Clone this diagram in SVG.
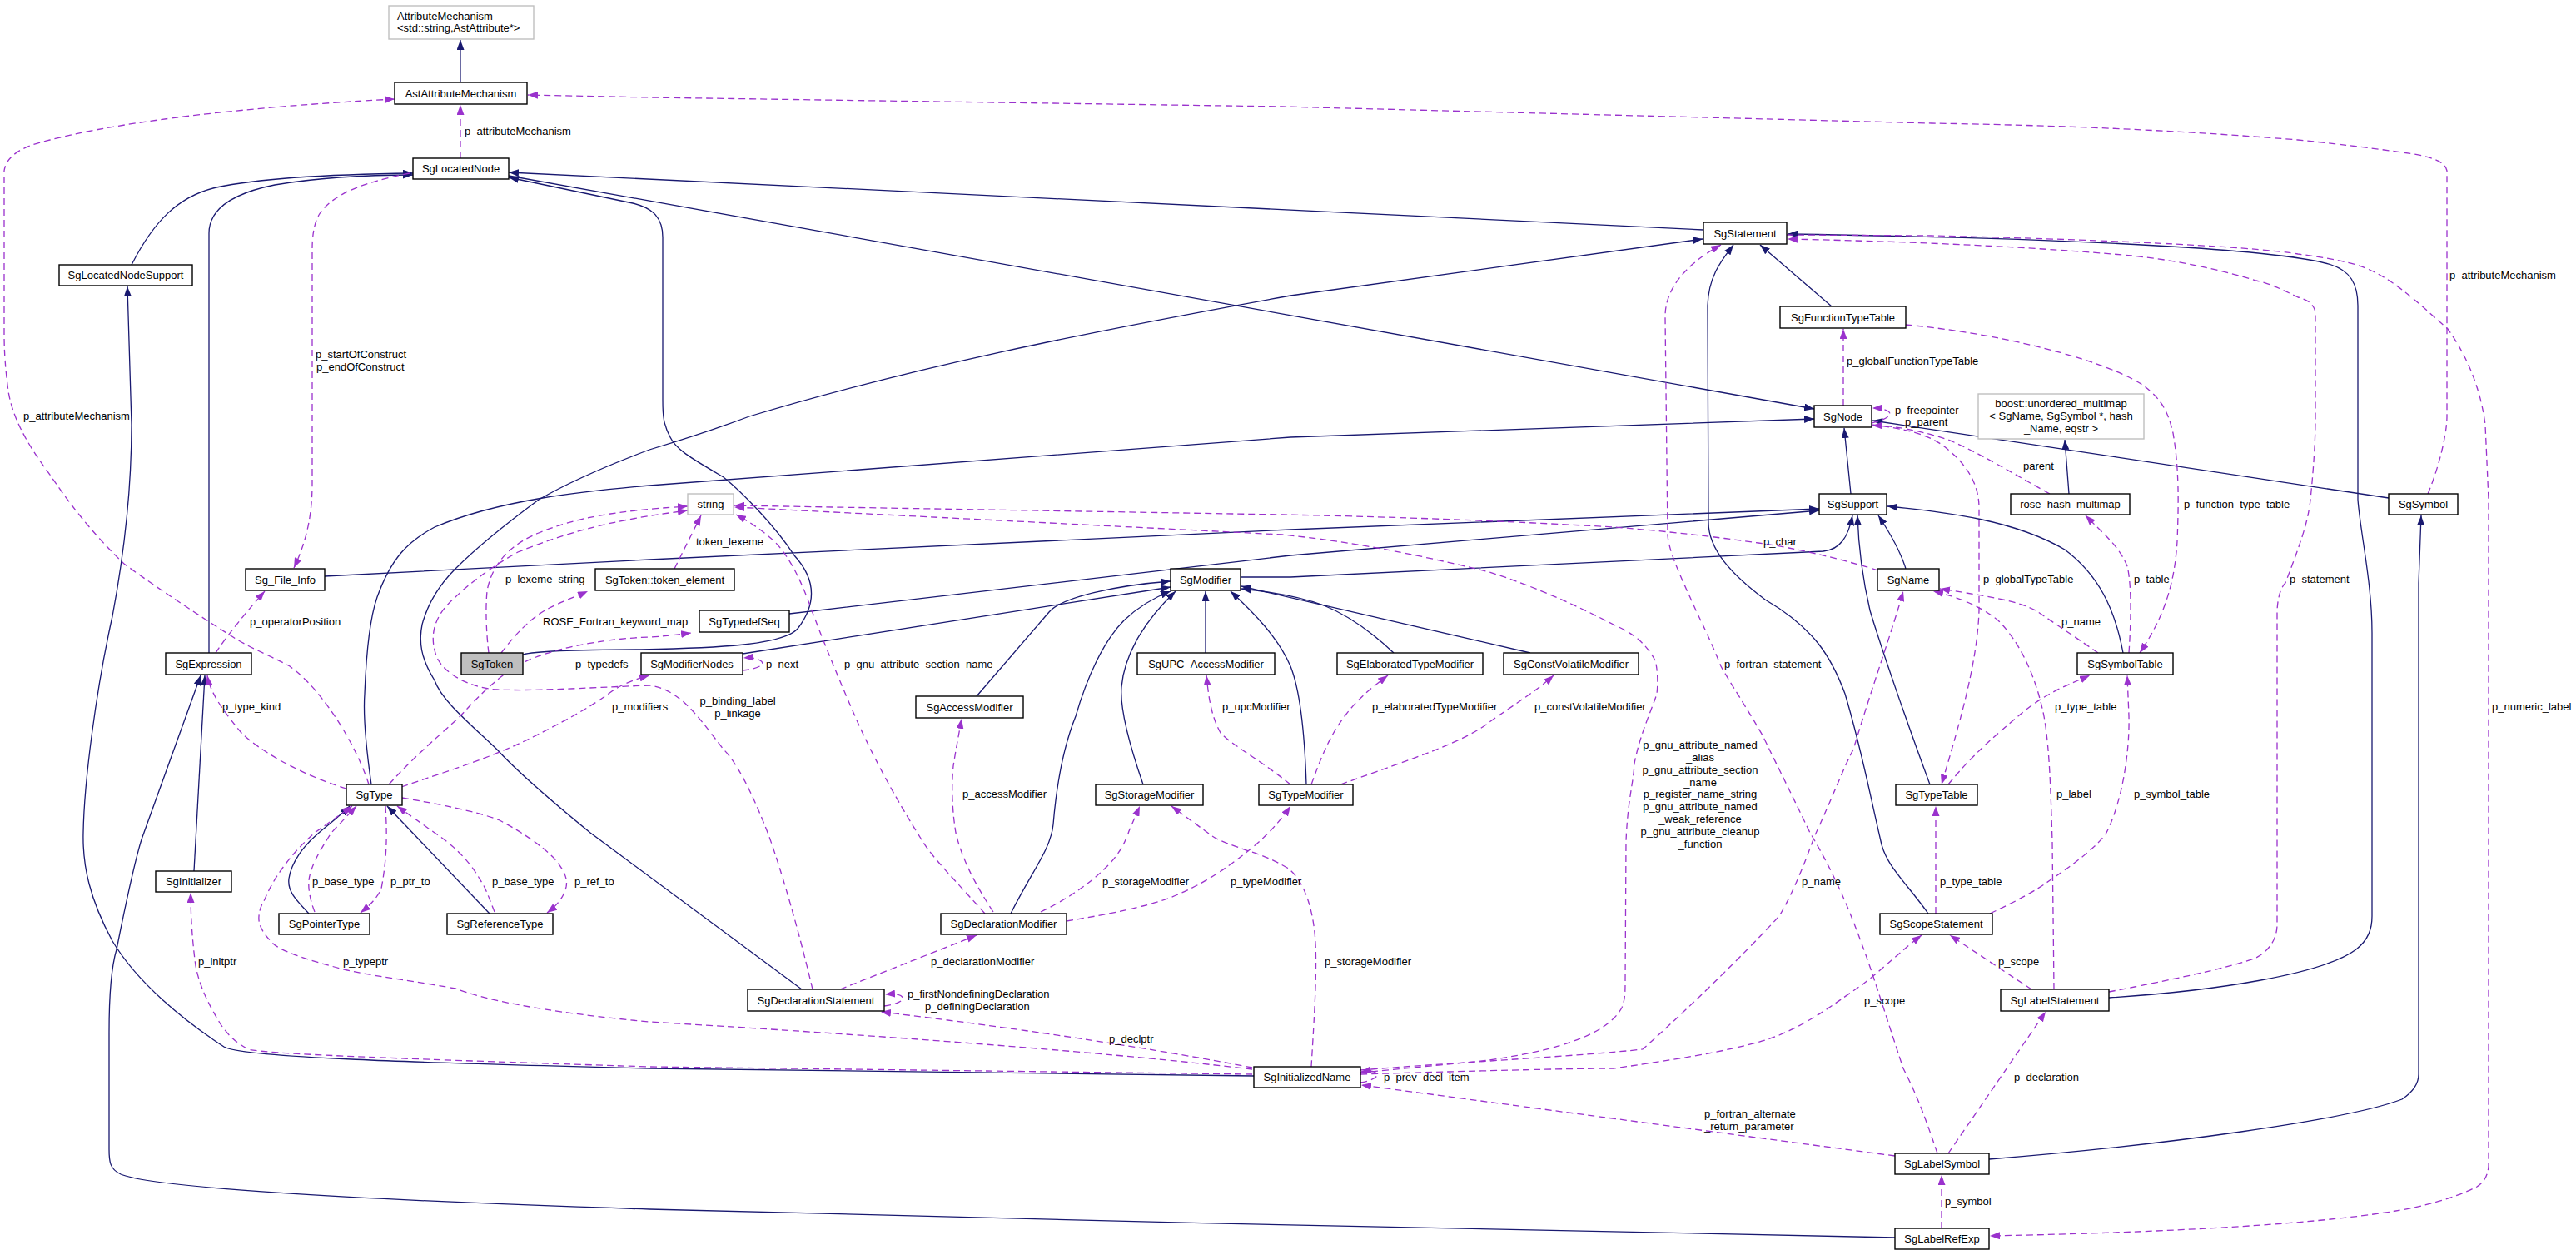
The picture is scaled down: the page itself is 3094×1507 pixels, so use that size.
<svg xmlns="http://www.w3.org/2000/svg" width="3094" height="1507" viewBox="0 0 3094 1507">
<style>
.n rect{fill:#fff;stroke:#000;stroke-width:1.4}
.n.ext rect{stroke:#bfbfbf}
.n.focus rect{fill:#bfbfbf}
text{font-family:"Liberation Sans",Arial,sans-serif;font-size:13px;fill:#000}
.n text{text-anchor:middle}
.inh{fill:none;stroke:#191970;stroke-width:1.3;marker-end:url(#an)}
.use{fill:none;stroke:#9a32cd;stroke-width:1.3;stroke-dasharray:8,5;marker-end:url(#ap)}
.mid{text-anchor:middle}
</style>
<defs>
<marker id="an" markerWidth="12" markerHeight="9" refX="12" refY="4.5" orient="auto" markerUnits="userSpaceOnUse"><path d="M0,0 L12,4.5 L0,9 z" fill="#191970"/></marker>
<marker id="ap" markerWidth="12" markerHeight="9" refX="12" refY="4.5" orient="auto" markerUnits="userSpaceOnUse"><path d="M0,0 L12,4.5 L0,9 z" fill="#9a32cd"/></marker>
</defs>
<rect width="3094" height="1507" fill="#fff"/>
<g id="edges">
<path class="inh" d="M553,99 L553,48"/>
<path class="inh" d="M611,211 L2179,491"/>
<path class="inh" d="M2046,276 L611,207"/>
<path class="inh" d="M628,786 C645,781 700,780 770,780 C860,778 940,775 958,755 C985,720 975,690 954,667 C930,630 890,590 869,573 C830,550 812,540 805,525 C797,510 796,500 796,480 L796,285 C796,262 785,250 760,244 L611,213"/>
<path class="inh" d="M158,318 C185,265 215,235 260,225 C320,212 420,209 496,208"/>
<path class="inh" d="M251,784 L251,280 C251,250 280,232 330,222 C390,212 450,210 496,210"/>
<path class="inh" d="M1506,1292 L780,1283 C500,1276 290,1270 269,1257 C220,1225 165,1180 135,1130 C108,1080 99,1040 100,1000 C101,940 115,830 135,740 C150,660 158,580 158,510 L153,344"/>
<path class="inh" d="M233,1046 L246,811"/>
<path class="inh" d="M2276,1486 C2000,1480 1200,1465 780,1452 C400,1440 180,1425 145,1410 C132,1404 131,1395 131,1380 L131,1240 C131,1190 134,1160 140,1140 C150,1090 160,1040 170,1008 L241,811"/>
<path class="inh" d="M446,942 C440,900 436,860 438,833 C440,780 445,740 453,717 C470,670 490,650 522,633 C600,600 700,590 780,583 L1550,525 L2179,503"/>
<path class="inh" d="M371,1097 C355,1080 345,1070 347,1055 C350,1035 365,1015 383,1000 C395,990 410,978 420,968"/>
<path class="inh" d="M588,1097 L465,968"/>
<path class="inh" d="M892,785 L1406,705"/>
<path class="inh" d="M1173,836 L1260,735 C1275,717 1340,703 1406,698"/>
<path class="inh" d="M1214,1097 C1240,1045 1262,1020 1265,990 C1270,930 1280,890 1292,860 C1305,815 1325,770 1350,745 C1370,726 1390,716 1406,710"/>
<path class="inh" d="M1373,942 C1355,890 1345,850 1347,825 C1350,790 1370,750 1412,710"/>
<path class="inh" d="M1448,784 L1448,710"/>
<path class="inh" d="M1569,942 C1567,880 1562,830 1550,800 C1535,765 1505,735 1478,710"/>
<path class="inh" d="M1674,784 C1640,752 1610,735 1590,727 C1560,716 1520,710 1491,707"/>
<path class="inh" d="M1838,784 L1491,704"/>
<path class="inh" d="M1490,693 L1550,693 L2190,662 C2210,660 2220,645 2225,619"/>
<path class="inh" d="M390,692 L780,672 L1550,636 L2185,611"/>
<path class="inh" d="M948,737 L1550,667 L2185,613"/>
<path class="inh" d="M2223,593 L2215,514"/>
<path class="inh" d="M2289,683 C2282,660 2270,640 2256,619"/>
<path class="inh" d="M2318,942 C2295,880 2260,780 2246,733 C2236,690 2232,650 2231,619"/>
<path class="inh" d="M2550,784 C2540,730 2520,690 2480,660 C2420,625 2340,615 2267,608"/>
<path class="inh" d="M2316,1097 C2290,1060 2265,1040 2259,1010 C2245,950 2236,900 2216,833 C2200,790 2180,755 2120,720 C2080,690 2052,660 2052,627 L2051,367 C2052,330 2070,310 2082,294"/>
<path class="inh" d="M2200,368 L2114,294"/>
<path class="inh" d="M2533,1198 C2660,1190 2790,1170 2830,1140 C2845,1128 2849,1115 2849,1100 L2849,760 C2849,700 2835,640 2832,600 L2832,367 C2832,340 2822,325 2800,318 C2760,305 2600,288 2147,281"/>
<path class="inh" d="M2389,1392 C2600,1375 2820,1345 2885,1320 C2900,1310 2905,1300 2905,1290 L2905,700 L2908,619"/>
<path class="inh" d="M2869,598 L2249,505"/>
<path class="inh" d="M2485,593 L2480,528"/>
<path class="inh" d="M963,1188 L709,1000 C660,960 620,925 597,900 C560,865 530,840 522,817 C505,790 503,770 507,750 C515,720 530,700 547,683 C580,650 620,620 647,600 C690,575 740,555 780,540 C820,528 860,515 900,500 C1100,440 1300,400 1550,355 L2045,287"/>

<path class="use" d="M553,190 L553,126"/>
<path class="use" d="M443,942 C430,900 390,830 348,800 C320,785 300,778 280,765 C240,740 180,700 149,677 C110,640 80,600 60,570 C30,530 15,500 10,470 C6,440 5,420 5,400 L5,205 C8,185 30,175 60,168 C150,145 300,128 474,119"/>
<path class="use" d="M492,208 C430,220 400,235 385,255 C378,265 375,280 375,300 L375,580 C375,620 368,650 353,682"/>
<path class="use" d="M259,784 C275,760 300,730 318,710"/>
<path class="use" d="M416,947 C360,930 310,900 290,880 C265,850 252,830 249,811"/>
<path class="use" d="M467,942 C510,895 545,870 562,850 C590,820 610,805 630,795 C660,780 720,767 780,765 C800,764 815,762 830,760"/>
<path class="use" d="M482,945 C540,925 590,910 640,885 C690,860 715,845 735,830 C750,820 765,815 780,811"/>
<path class="use" d="M587,784 C584,760 583,730 585,710 C590,680 610,655 647,640 C690,622 740,613 826,608"/>
<path class="use" d="M602,784 C620,760 640,740 660,730 C680,720 695,715 706,710"/>
<path class="use" d="M810,683 L842,619"/>
<path class="use" d="M976,1188 C960,1120 940,1050 924,1005 C905,955 885,915 869,900 C850,875 835,855 820,842 C805,830 795,825 780,823 C700,826 640,830 597,828 C565,826 535,810 525,790 C515,765 520,740 547,717 C570,695 600,675 622,663 C680,640 730,625 826,613"/>
<path class="use" d="M1183,1097 C1150,1060 1120,1030 1108,1010 C1070,950 1045,900 1030,867 C1005,810 985,760 975,733 C960,690 945,665 930,650 C910,632 895,624 884,618"/>
<path class="use" d="M2256,685 C2200,668 2150,657 2112,652 C2050,643 1980,636 1938,633 C1800,625 1650,620 1540,618 L882,607"/>
<path class="use" d="M1634,1288 C1700,1282 1760,1276 1789,1273 C1840,1265 1870,1258 1890,1250 C1920,1240 1940,1225 1948,1210 C1952,1200 1952,1190 1952,1180 L1953,1010 C1955,960 1962,940 1963,917 C1970,880 1985,850 1990,833 C1992,815 1990,800 1988,793 C1975,770 1960,760 1938,750 C1880,720 1830,700 1789,687 C1700,665 1620,650 1540,642 L882,609"/>
<path class="use" d="M1250,1095 C1285,1078 1310,1060 1330,1040 C1345,1025 1352,1010 1356,998 L1369,968"/>
<path class="use" d="M1575,1281 C1578,1230 1582,1170 1580,1133 C1578,1090 1565,1055 1546,1042 C1525,1030 1510,1025 1500,1022 C1480,1015 1465,1010 1456,1004 L1407,968"/>
<path class="use" d="M1281,1106 C1330,1098 1370,1090 1400,1080 C1440,1065 1470,1045 1495,1025 C1515,1010 1535,990 1550,968"/>
<path class="use" d="M1550,942 C1510,910 1480,895 1466,880 C1455,860 1452,840 1449,811"/>
<path class="use" d="M1575,942 C1590,900 1600,880 1615,860 C1630,840 1648,825 1667,811"/>
<path class="use" d="M1610,942 C1700,910 1760,890 1789,867 C1820,845 1845,830 1866,811"/>
<path class="use" d="M1193,1095 C1170,1060 1155,1030 1148,1000 C1143,970 1143,940 1145,920 C1148,900 1152,880 1155,863"/>
<path class="use" d="M1009,1188 L1173,1123"/>
<path class="use" d="M1062,1208 C1075,1206 1085,1203 1084,1198 C1083,1194 1075,1193 1063,1194"/>
<path class="use" d="M1504,1282 C1400,1262 1250,1238 1058,1215"/>
<path class="use" d="M1504,1284 C1300,1260 1000,1240 780,1227 C650,1215 580,1200 547,1187 C480,1175 430,1170 398,1160 C360,1150 335,1140 328,1133 C315,1120 310,1110 311,1100 C312,1090 315,1085 318,1080 C330,1050 355,1020 378,1000 L423,968"/>
<path class="use" d="M378,1095 C372,1080 370,1065 371,1057 C373,1040 385,1020 398,1000 L428,968"/>
<path class="use" d="M463,968 C465,1000 465,1030 458,1067 C452,1080 443,1088 433,1096"/>
<path class="use" d="M594,1095 C588,1080 583,1065 577,1057 C565,1035 545,1015 522,1000 L477,968"/>
<path class="use" d="M483,958 C530,966 575,975 600,985 C625,998 650,1015 665,1030 C678,1045 682,1055 680,1065 C677,1078 668,1088 657,1096"/>
<path class="use" d="M1504,1290 L780,1281 C500,1272 320,1266 298,1260 C280,1250 272,1240 265,1230 C250,1205 240,1185 235,1160 C231,1130 229,1100 229,1072"/>
<path class="use" d="M1634,1285 C1760,1275 1900,1268 1973,1260 C2040,1200 2100,1140 2137,1100 C2155,1070 2170,1030 2179,1005 C2200,960 2215,920 2226,900 C2250,820 2272,760 2286,710"/>
<path class="use" d="M2327,1385 C2315,1350 2305,1320 2286,1283 C2265,1220 2250,1170 2236,1133 C2215,1075 2195,1035 2174,1000 C2150,950 2130,910 2117,883 C2095,845 2075,815 2067,800 C2055,770 2045,750 2037,733 C2020,695 2005,665 2003,643 L2000,380 C2000,350 2020,320 2067,294"/>
<path class="use" d="M1634,1290 C1800,1285 1900,1283 1938,1283 C2030,1270 2100,1258 2137,1243 C2180,1225 2210,1200 2236,1183 C2260,1165 2285,1140 2308,1123"/>
<path class="use" d="M2276,1388 L1635,1303"/>
<path class="use" d="M1634,1300 C1648,1298 1655,1293 1654,1290 C1652,1286 1645,1285 1635,1287"/>
<path class="use" d="M2440,1188 L2342,1123"/>
<path class="use" d="M2340,1385 L2457,1215"/>
<path class="use" d="M2332,1475 L2332,1411"/>
<path class="use" d="M2467,1188 L2465,1010 C2463,950 2462,900 2455,860 C2445,810 2425,770 2400,745 C2375,725 2345,715 2322,710"/>
<path class="use" d="M2390,1097 C2420,1083 2445,1070 2465,1055 C2495,1035 2520,1015 2530,1000 C2550,960 2558,900 2557,860 L2555,811"/>
<path class="use" d="M2325,1097 L2325,968"/>
<path class="use" d="M2340,942 C2370,905 2400,880 2430,855 C2460,830 2490,820 2510,811"/>
<path class="use" d="M2520,784 C2500,770 2470,750 2445,733 C2420,720 2380,715 2330,707"/>
<path class="use" d="M2557,784 C2560,740 2560,700 2555,680 C2545,655 2525,640 2505,619"/>
<path class="use" d="M2289,390 C2400,400 2520,430 2570,460 C2600,480 2605,500 2610,520 C2617,560 2617,600 2615,650 C2612,700 2600,740 2570,784"/>
<path class="use" d="M2214,487 L2214,395"/>
<path class="use" d="M2248,508 C2262,505 2270,500 2270,497 C2270,493 2260,490 2249,490"/>
<path class="use" d="M2248,510 C2290,515 2320,522 2340,540 C2370,565 2377,590 2377,610 L2377,733 C2375,800 2350,880 2332,942"/>
<path class="use" d="M2462,593 C2420,570 2380,545 2340,528 C2300,515 2270,511 2249,511"/>
<path class="use" d="M2916,593 C2930,560 2939,520 2939,500 L2939,205 C2937,195 2925,190 2900,185 C2850,178 2810,173 2760,168 C2600,155 2450,150 2320,148 L1540,128 L780,117 L634,114"/>
<path class="use" d="M2146,282 L2320,283 C2500,287 2700,295 2760,305 C2800,310 2820,315 2830,318 C2870,330 2900,360 2940,395 C2965,430 2980,470 2985,510 L2989,600 L2989,1400 C2988,1415 2980,1422 2975,1425 C2950,1438 2920,1445 2900,1450 C2800,1470 2600,1480 2390,1484"/>
<path class="use" d="M2533,1191 C2600,1178 2680,1162 2710,1150 C2728,1140 2735,1125 2735,1110 L2735,733 C2736,715 2740,705 2745,700 C2760,660 2772,630 2775,600 C2779,560 2781,530 2781,500 L2781,375 C2779,365 2772,360 2760,357 C2740,347 2725,340 2710,337 C2660,322 2610,312 2560,307 C2450,297 2300,290 2147,287"/>
<path class="use" d="M892,805 C905,804 915,800 916,797 C916,792 905,789 893,790"/>
</g>
<g id="edge-labels">
<text x="558" y="161.5">p_attributeMechanism</text>
<text x="379" y="429.5">p_startOfConstruct</text>
<text x="380" y="444.5">p_endOfConstruct</text>
<text x="28" y="503.5">p_attributeMechanism</text>
<text x="2218" y="437.5">p_globalFunctionTypeTable</text>
<text x="2942" y="334.5">p_attributeMechanism</text>
<text x="2276" y="496.5">p_freepointer</text>
<text x="2288" y="510.5">p_parent</text>
<text x="2430" y="563.5">parent</text>
<text x="2623" y="609.5">p_function_type_table</text>
<text x="2382" y="699.5">p_globalTypeTable</text>
<text x="2563" y="699.5">p_table</text>
<text x="2750" y="699.5">p_statement</text>
<text x="2476" y="750.5">p_name</text>
<text x="2468" y="852.5">p_type_table</text>
<text x="2993" y="852.5">p_numeric_label</text>
<text x="2470" y="957.5">p_label</text>
<text x="2563" y="957.5">p_symbol_table</text>
<text x="2118" y="654.5">p_char</text>
<text x="2071" y="801.5">p_fortran_statement</text>
<text x="1648" y="852.5">p_elaboratedTypeModifier</text>
<text x="1843" y="852.5">p_constVolatileModifier</text>
<text class="mid" x="2042" y="898.5">p_gnu_attribute_named</text>
<text class="mid" x="2042" y="913.5">_alias</text>
<text class="mid" x="2042" y="928.5">p_gnu_attribute_section</text>
<text class="mid" x="2042" y="943.5">_name</text>
<text class="mid" x="2042" y="957.5">p_register_name_string</text>
<text class="mid" x="2042" y="972.5">p_gnu_attribute_named</text>
<text class="mid" x="2042" y="987.5">_weak_reference</text>
<text class="mid" x="2042" y="1002.5">p_gnu_attribute_cleanup</text>
<text class="mid" x="2042" y="1017.5">_function</text>
<text x="836" y="654.5">token_lexeme</text>
<text x="607" y="699.5">p_lexeme_string</text>
<text x="652" y="750.5">ROSE_Fortran_keyword_map</text>
<text x="691" y="801.5">p_typedefs</text>
<text x="735" y="852.5">p_modifiers</text>
<text x="920" y="801.5">p_next</text>
<text class="mid" x="886" y="845.5">p_binding_label</text>
<text class="mid" x="886" y="860.5">p_linkage</text>
<text x="1014" y="801.5">p_gnu_attribute_section_name</text>
<text x="1156" y="957.5">p_accessModifier</text>
<text x="1468" y="852.5">p_upcModifier</text>
<text x="300" y="750.5">p_operatorPosition</text>
<text x="267" y="852.5">p_type_kind</text>
<text x="375" y="1062.5">p_base_type</text>
<text x="469" y="1062.5">p_ptr_to</text>
<text x="591" y="1062.5">p_base_type</text>
<text x="690" y="1062.5">p_ref_to</text>
<text x="238" y="1158.5">p_initptr</text>
<text x="412" y="1158.5">p_typeptr</text>
<text x="1324" y="1062.5">p_storageModifier</text>
<text x="1478" y="1062.5">p_typeModifier</text>
<text x="1118" y="1158.5">p_declarationModifier</text>
<text x="1090" y="1197.5">p_firstNondefiningDeclaration</text>
<text x="1111" y="1212.5">p_definingDeclaration</text>
<text x="1332" y="1251.5">p_declptr</text>
<text x="1591" y="1158.5">p_storageModifier</text>
<text x="2164" y="1062.5">p_name</text>
<text x="2239" y="1205.5">p_scope</text>
<text x="2047" y="1341.5">p_fortran_alternate</text>
<text x="2047" y="1356.5">_return_parameter</text>
<text x="1662" y="1297.5">p_prev_decl_item</text>
<text x="2330" y="1062.5">p_type_table</text>
<text x="2400" y="1158.5">p_scope</text>
<text x="2419" y="1297.5">p_declaration</text>
<text x="2336" y="1446.5">p_symbol</text>
</g>
<g id="AttributeMechanism" class="n ext"><rect x="467" y="7" width="174" height="40"/><text x="477" y="23.5" style="text-anchor:start">AttributeMechanism</text><text x="477" y="37.5" style="text-anchor:start">&lt;std::string,AstAttribute*&gt;</text></g>
<g id="AstAttributeMechanism" class="n"><rect x="474" y="99" width="159" height="26"/><text x="553.5" y="116.5">AstAttributeMechanism</text></g>
<g id="SgLocatedNode" class="n"><rect x="496" y="190" width="115" height="25"/><text x="553.5" y="207">SgLocatedNode</text></g>
<g id="SgLocatedNodeSupport" class="n"><rect x="71" y="318" width="160" height="25"/><text x="151" y="335">SgLocatedNodeSupport</text></g>
<g id="Sg_File_Info" class="n"><rect x="295" y="683" width="95" height="26"/><text x="342.5" y="700.5">Sg_File_Info</text></g>
<g id="SgExpression" class="n"><rect x="199" y="784" width="103" height="26"/><text x="250.5" y="801.5">SgExpression</text></g>
<g id="SgToken" class="n focus"><rect x="554" y="784" width="74" height="26"/><text x="591" y="801.5">SgToken</text></g>
<g id="SgToken_token_element" class="n"><rect x="715" y="683" width="167" height="26"/><text x="798.5" y="700.5">SgToken::token_element</text></g>
<g id="string" class="n ext"><rect x="826" y="593" width="55" height="25"/><text x="853.5" y="610">string</text></g>
<g id="SgTypedefSeq" class="n"><rect x="840" y="733" width="108" height="26"/><text x="894" y="750.5">SgTypedefSeq</text></g>
<g id="SgModifierNodes" class="n"><rect x="770" y="784" width="122" height="26"/><text x="831" y="801.5">SgModifierNodes</text></g>
<g id="SgType" class="n"><rect x="416" y="942" width="67" height="25"/><text x="449.5" y="959">SgType</text></g>
<g id="SgInitializer" class="n"><rect x="187" y="1046" width="91" height="25"/><text x="232.5" y="1063">SgInitializer</text></g>
<g id="SgPointerType" class="n"><rect x="335" y="1097" width="109" height="25"/><text x="389.5" y="1114">SgPointerType</text></g>
<g id="SgReferenceType" class="n"><rect x="537" y="1097" width="127" height="25"/><text x="600.5" y="1114">SgReferenceType</text></g>
<g id="SgModifier" class="n"><rect x="1406" y="683" width="84" height="26"/><text x="1448" y="700.5">SgModifier</text></g>
<g id="SgUPC_AccessModifier" class="n"><rect x="1366" y="784" width="165" height="26"/><text x="1448.5" y="801.5">SgUPC_AccessModifier</text></g>
<g id="SgAccessModifier" class="n"><rect x="1100" y="836" width="129" height="26"/><text x="1164.5" y="853.5">SgAccessModifier</text></g>
<g id="SgStorageModifier" class="n"><rect x="1316" y="942" width="129" height="25"/><text x="1380.5" y="959">SgStorageModifier</text></g>
<g id="SgTypeModifier" class="n"><rect x="1512" y="942" width="113" height="25"/><text x="1568.5" y="959">SgTypeModifier</text></g>
<g id="SgElaboratedTypeModifier" class="n"><rect x="1606" y="784" width="175" height="26"/><text x="1693.5" y="801.5">SgElaboratedTypeModifier</text></g>
<g id="SgConstVolatileModifier" class="n"><rect x="1806" y="784" width="162" height="26"/><text x="1887" y="801.5">SgConstVolatileModifier</text></g>
<g id="SgDeclarationModifier" class="n"><rect x="1130" y="1097" width="151" height="25"/><text x="1205.5" y="1114">SgDeclarationModifier</text></g>
<g id="SgDeclarationStatement" class="n"><rect x="898" y="1188" width="164" height="26"/><text x="980" y="1205.5">SgDeclarationStatement</text></g>
<g id="SgInitializedName" class="n"><rect x="1506" y="1281" width="128" height="25"/><text x="1570" y="1298">SgInitializedName</text></g>
<g id="SgStatement" class="n"><rect x="2046" y="267" width="100" height="26"/><text x="2096" y="284.5">SgStatement</text></g>
<g id="SgFunctionTypeTable" class="n"><rect x="2138" y="368" width="151" height="26"/><text x="2213.5" y="385.5">SgFunctionTypeTable</text></g>
<g id="SgNode" class="n"><rect x="2179" y="487" width="69" height="26"/><text x="2213.5" y="504.5">SgNode</text></g>
<g id="SgSupport" class="n"><rect x="2185" y="593" width="81" height="25"/><text x="2225.5" y="610">SgSupport</text></g>
<g id="SgName" class="n"><rect x="2255" y="683" width="74" height="26"/><text x="2292" y="700.5">SgName</text></g>
<g id="SgTypeTable" class="n"><rect x="2277" y="942" width="98" height="25"/><text x="2326" y="959">SgTypeTable</text></g>
<g id="SgSymbolTable" class="n"><rect x="2495" y="784" width="115" height="26"/><text x="2552.5" y="801.5">SgSymbolTable</text></g>
<g id="rose_hash_multimap" class="n"><rect x="2415" y="593" width="143" height="25"/><text x="2486.5" y="610">rose_hash_multimap</text></g>
<g id="boost_unordered_multimap" class="n ext"><rect x="2376" y="473" width="199" height="54"/><text x="2475.5" y="488.5">boost::unordered_multimap</text><text x="2475.5" y="503.5">&lt; SgName, SgSymbol *, hash</text><text x="2475.5" y="518.5">_Name, eqstr &gt;</text></g>
<g id="SgSymbol" class="n"><rect x="2869" y="593" width="83" height="25"/><text x="2910.5" y="610">SgSymbol</text></g>
<g id="SgScopeStatement" class="n"><rect x="2258" y="1097" width="135" height="25"/><text x="2325.5" y="1114">SgScopeStatement</text></g>
<g id="SgLabelStatement" class="n"><rect x="2403" y="1188" width="130" height="26"/><text x="2468" y="1205.5">SgLabelStatement</text></g>
<g id="SgLabelSymbol" class="n"><rect x="2276" y="1385" width="113" height="25"/><text x="2332.5" y="1402">SgLabelSymbol</text></g>
<g id="SgLabelRefExp" class="n"><rect x="2276" y="1475" width="113" height="25"/><text x="2332.5" y="1492">SgLabelRefExp</text></g>
</svg>
